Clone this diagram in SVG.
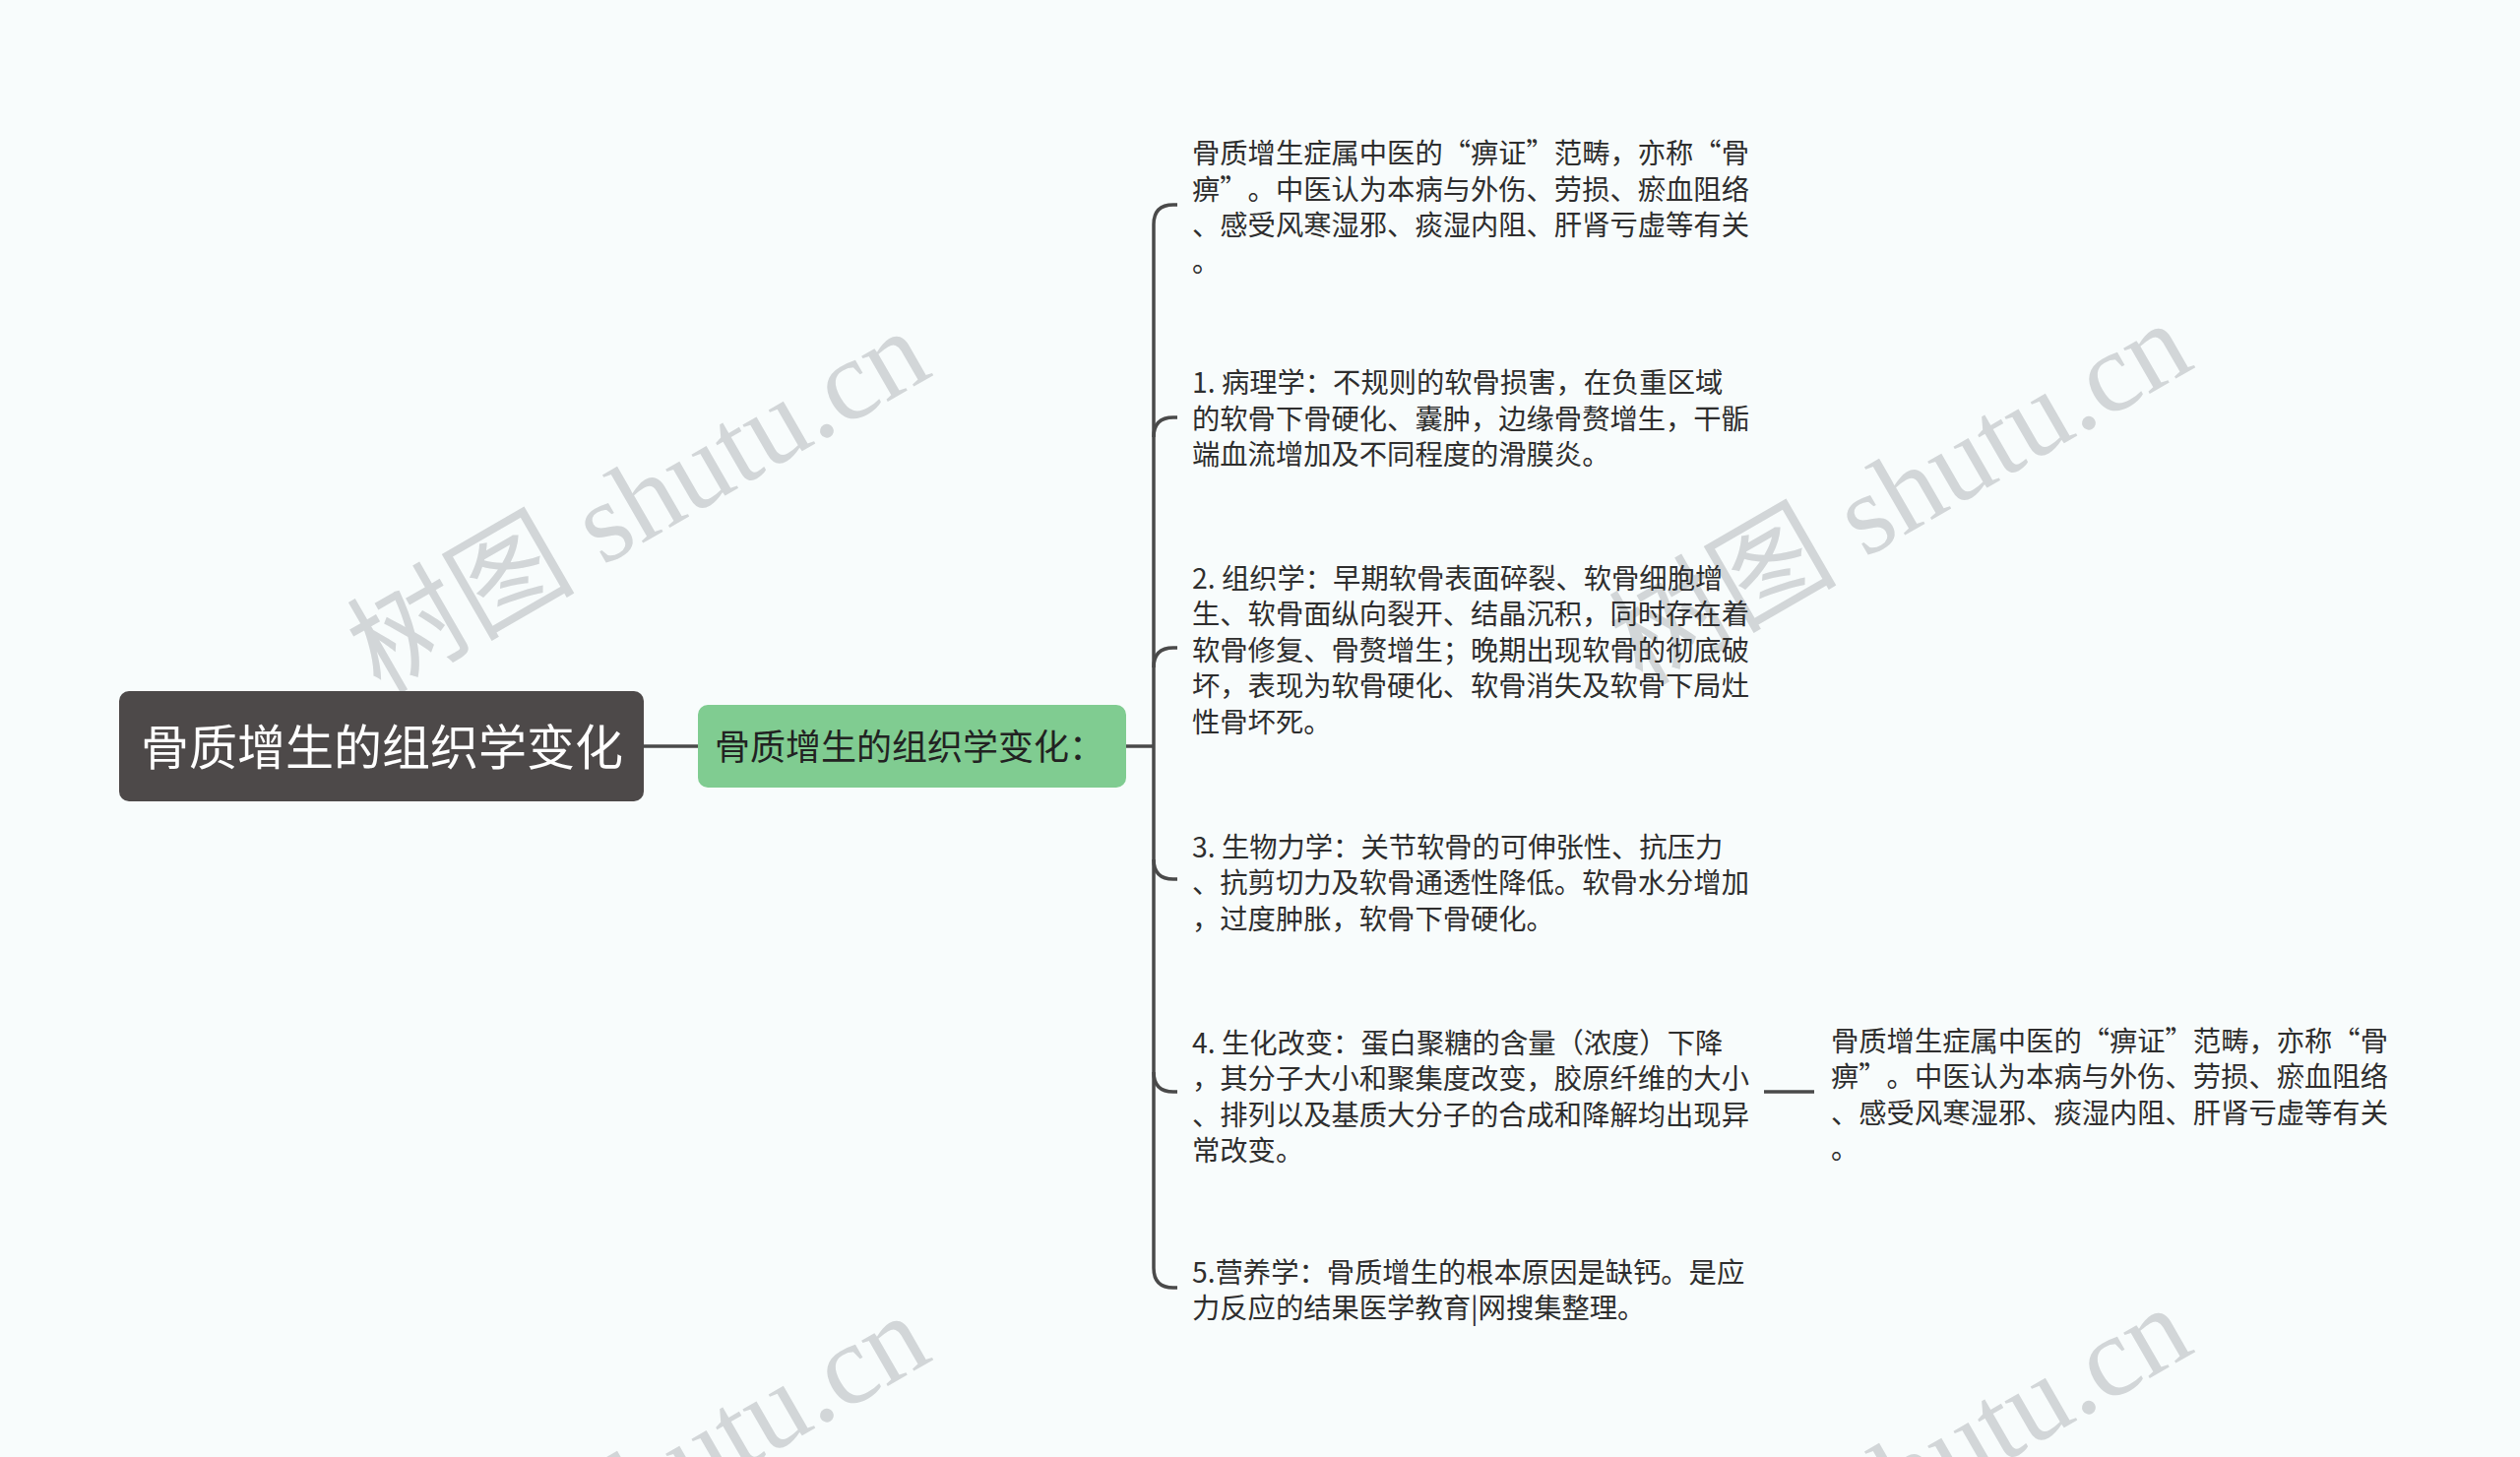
<svg xmlns="http://www.w3.org/2000/svg" width="2560" height="1480" viewBox="0 0 2560 1480">
<style>
text{text-spacing-trim:space-all;font-kerning:none}
.wm{font-family:"Liberation Serif","Noto Sans CJK SC",serif;font-size:116px;fill:#d2d6d8}
.leaf{font-family:"Noto Sans CJK SC","Liberation Sans",sans-serif;font-size:28.3px;fill:#2e2e2e}
.root{font-family:"Noto Sans CJK SC","Liberation Sans",sans-serif;font-size:49px;fill:#ffffff}
.sub{font-family:"Noto Sans CJK SC","Liberation Sans",sans-serif;font-size:36px;fill:#222222}
.ln{fill:none;stroke:#4a4a4a;stroke-width:3.5;stroke-linecap:butt}
</style>
<rect x="0" y="0" width="2560" height="1480" fill="#f8fcfc"/>
<g id="watermarks">
<text class="wm" x="668" y="543" text-anchor="middle" transform="rotate(-30 668 543)">树图 shutu.cn</text>
<text class="wm" x="1950" y="535" text-anchor="middle" transform="rotate(-30 1950 535)">树图 shutu.cn</text>
<text class="wm" x="668" y="1543" text-anchor="middle" transform="rotate(-30 668 1543)">树图 shutu.cn</text>
<text class="wm" x="1950" y="1535" text-anchor="middle" transform="rotate(-30 1950 1535)">树图 shutu.cn</text>
</g>
<g id="connectors">
<path class="ln" d="M654,758 H709"/>
<path class="ln" d="M1144,758 H1172"/>
<path class="ln" d="M1196,208 H1192 Q1172,208 1172,228 V1288 Q1172,1308 1192,1308 H1196"/>
<path class="ln" d="M1172,444 Q1172,424 1192,424 H1196"/>
<path class="ln" d="M1172,678 Q1172,658 1192,658 H1196"/>
<path class="ln" d="M1172,873 Q1172,893 1192,893 H1196"/>
<path class="ln" d="M1172,1089 Q1172,1109 1192,1109 H1196"/>
<path class="ln" d="M1792,1109 H1843"/>
</g>
<g id="root">
<rect x="121" y="702" width="533" height="112" rx="10" fill="#4d4949"/>
<text class="root" x="388" y="777" text-anchor="middle">骨质增生的组织学变化</text>
</g>
<g id="sub">
<rect x="709" y="716" width="435" height="84" rx="10" fill="#80cc91"/>
<text class="sub" x="726" y="772">骨质增生的组织学变化：</text>
</g>
<g id="leaf1">
<text class="leaf" x="1211" y="166">骨质增生症属中医的“痹证”范畴，亦称“骨</text>
<text class="leaf" x="1211" y="202.6">痹”。中医认为本病与外伤、劳损、瘀血阻络</text>
<text class="leaf" x="1211" y="239.2">、感受风寒湿邪、痰湿内阻、肝肾亏虚等有关</text>
<text class="leaf" x="1211" y="275.8">。</text>
</g>
<g id="leaf2">
<text class="leaf" x="1211" y="399">1. 病理学：不规则的软骨损害，在负重区域</text>
<text class="leaf" x="1211" y="435.6">的软骨下骨硬化、囊肿，边缘骨赘增生，干骺</text>
<text class="leaf" x="1211" y="472.2">端血流增加及不同程度的滑膜炎。</text>
</g>
<g id="leaf3">
<text class="leaf" x="1211" y="597.5">2. 组织学：早期软骨表面碎裂、软骨细胞增</text>
<text class="leaf" x="1211" y="634.1">生、软骨面纵向裂开、结晶沉积，同时存在着</text>
<text class="leaf" x="1211" y="670.7">软骨修复、骨赘增生；晚期出现软骨的彻底破</text>
<text class="leaf" x="1211" y="707.3">坏，表现为软骨硬化、软骨消失及软骨下局灶</text>
<text class="leaf" x="1211" y="743.9">性骨坏死。</text>
</g>
<g id="leaf4">
<text class="leaf" x="1211" y="870.5">3. 生物力学：关节软骨的可伸张性、抗压力</text>
<text class="leaf" x="1211" y="907.1">、抗剪切力及软骨通透性降低。软骨水分增加</text>
<text class="leaf" x="1211" y="943.7">，过度肿胀，软骨下骨硬化。</text>
</g>
<g id="leaf5">
<text class="leaf" x="1211" y="1069.5">4. 生化改变：蛋白聚糖的含量（浓度）下降</text>
<text class="leaf" x="1211" y="1106.1">，其分子大小和聚集度改变，胶原纤维的大小</text>
<text class="leaf" x="1211" y="1142.7">、排列以及基质大分子的合成和降解均出现异</text>
<text class="leaf" x="1211" y="1179.3">常改变。</text>
</g>
<g id="leaf5child">
<text class="leaf" x="1860" y="1067.5">骨质增生症属中医的“痹证”范畴，亦称“骨</text>
<text class="leaf" x="1860" y="1104.1">痹”。中医认为本病与外伤、劳损、瘀血阻络</text>
<text class="leaf" x="1860" y="1140.7">、感受风寒湿邪、痰湿内阻、肝肾亏虚等有关</text>
<text class="leaf" x="1860" y="1177.3">。</text>
</g>
<g id="leaf6">
<text class="leaf" x="1211" y="1302.5">5.营养学：骨质增生的根本原因是缺钙。是应</text>
<text class="leaf" x="1211" y="1339.1">力反应的结果医学教育|网搜集整理。</text>
</g>
</svg>
